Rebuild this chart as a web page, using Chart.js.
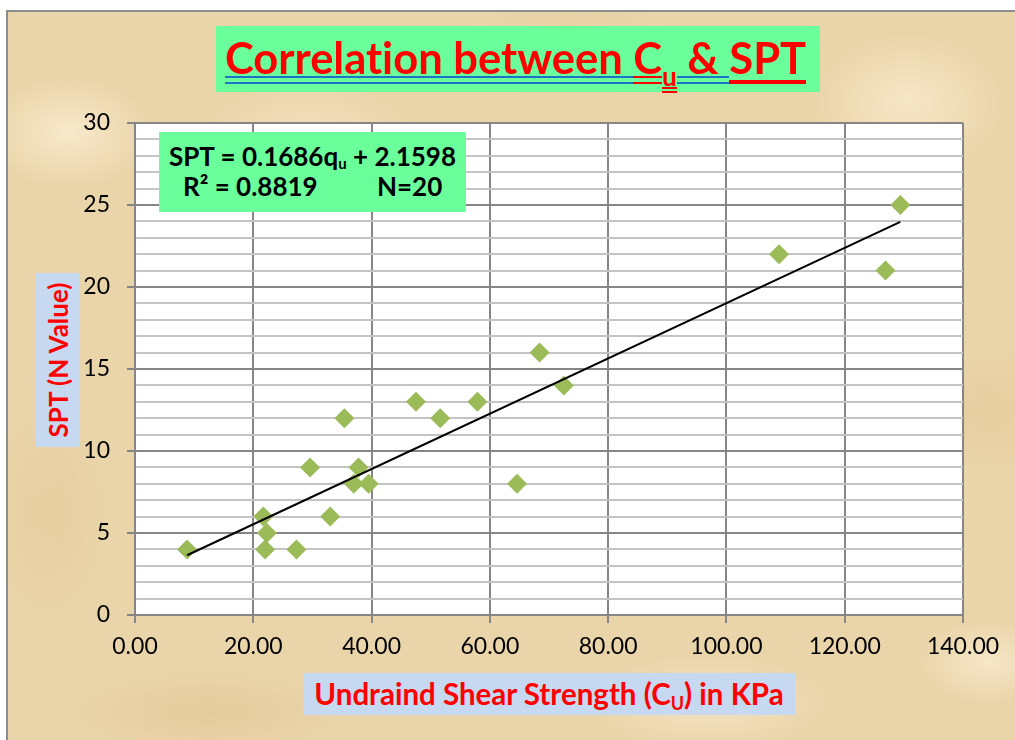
<!DOCTYPE html>
<html>
<head>
<meta charset="utf-8">
<script src="https://cdn.jsdelivr.net/npm/chart.js@4/dist/chart.umd.min.js"></script>
<style>
  html, body { margin:0; padding:0; width:1015px; height:740px; overflow:hidden; background:#fff; }
  #frame {
    position:absolute; left:6px; top:10px; width:1015px; height:740px;
    border-left:2px solid #8c8c8c; border-top:2px solid #8c8c8c;
    background-color:#ead5aa;
    background-image:
      radial-gradient(ellipse 120px 80px at 60px 120px, rgba(250,238,210,0.8), rgba(250,238,210,0) 70%),
      radial-gradient(ellipse 160px 90px at 300px 130px, rgba(245,230,200,0.7), rgba(245,230,200,0) 70%),
      radial-gradient(ellipse 140px 100px at 900px 90px, rgba(248,235,205,0.8), rgba(248,235,205,0) 70%),
      radial-gradient(ellipse 120px 90px at 980px 400px, rgba(225,200,150,0.6), rgba(225,200,150,0) 70%),
      radial-gradient(ellipse 200px 60px at 200px 700px, rgba(222,196,146,0.6), rgba(222,196,146,0) 70%),
      radial-gradient(ellipse 180px 70px at 700px 690px, rgba(248,234,204,0.7), rgba(248,234,204,0) 70%),
      radial-gradient(ellipse 90px 160px at 40px 500px, rgba(224,198,148,0.5), rgba(224,198,148,0) 70%),
      radial-gradient(ellipse 150px 80px at 560px 40px, rgba(226,202,155,0.5), rgba(226,202,155,0) 70%),
      radial-gradient(ellipse 100px 60px at 980px 650px, rgba(250,238,212,0.7), rgba(250,238,212,0) 70%);
  }
  #wrap { position:absolute; left:0; top:0; width:1015px; height:740px; }
  canvas { position:absolute; left:0; top:0; }
  .box { position:absolute; box-sizing:border-box; font-family:Lato, "Open Sans", sans-serif; font-weight:700;
         font-variant-ligatures:none; }
  #title { left:216px; top:26px; width:604px; height:66px; background:#6bff9b; color:#ff0000;
           font-size:43.5px; white-space:nowrap; line-height:1; }
  #title .t { position:absolute; left:9px; top:10px; white-space:pre; }
  #title span { display:inline-block; padding-bottom:12px; white-space:pre;
                background-repeat:no-repeat; }
  #title .bl { background-image:linear-gradient(#1b74c6,#1b74c6),linear-gradient(#1b74c6,#1b74c6);
               background-size:100% 2px,100% 2px; background-position:0 40px,0 46px; }
  #title .rc { background-image:linear-gradient(#ff0000,#ff0000),linear-gradient(#ff0000,#ff0000);
               background-size:100% 2px,100% 2px; background-position:0 40px,0 46px; }
  #title .ru { font-size:26px; position:relative; top:12px;
               background-image:linear-gradient(#ff0000,#ff0000),linear-gradient(#ff0000,#ff0000);
               background-size:100% 2px,100% 2px; background-position:0 24px,0 28px; padding-bottom:8px; }
  #title .rs { background-image:linear-gradient(#ff0000,#ff0000);
               background-size:100% 4px; background-position:0 44px; }
  #eq { left:159px; top:132px; width:307px; height:80px; background:#6bff9b; color:#000; font-size:26px; line-height:1; }
  #eq .l1 { position:absolute; left:0; width:100%; top:11px; text-align:center; white-space:nowrap; }
  #eq .l2a { position:absolute; left:24px; top:41px; white-space:nowrap; }
  #eq .l2b { position:absolute; left:218px; top:41px; white-space:nowrap; }
  #eq sub { font-size:15px; vertical-align:-3px; line-height:0; }
  #ytitle { left:36px; top:273px; width:44px; height:174px; background:#c6d9f0; color:#ff0000; font-size:26px; }
  #ytitle .r { position:absolute; left:50%; top:50%; transform:translate(-50%,-50%) rotate(-90deg); white-space:nowrap; }
  #xtitle { left:303px; top:673px; width:492px; height:42px; background:#c6d9f0; color:#ff0000; font-size:29.5px;
            text-align:center; line-height:42px; white-space:nowrap; }
  #xtitle sub { font-size:18px; vertical-align:-5px; line-height:0; }
</style>
</head>
<body>
<div id="frame"></div>
<div id="wrap"><canvas id="c" width="1015" height="740"></canvas></div>

<div class="box" id="title"><div class="t"><span class="bl">Correlation between </span><span class="rc">C</span><span class="ru">u</span><span class="bl"> &amp; </span><span class="rs">SPT</span></div></div>
<div class="box" id="eq">
  <div class="l1">SPT = 0.1686q<sub>u</sub> + 2.1598</div>
  <div class="l2a">R² = 0.8819</div>
  <div class="l2b">N=20</div>
</div>
<div class="box" id="ytitle"><div class="r">SPT (N Value)</div></div>
<div class="box" id="xtitle">Undraind Shear Strength (C<sub>U</sub>) in KPa</div>

<script>
// ---- data ----
const cuValues  = [8.8, 21.7, 22.0, 22.3, 27.3, 29.6, 33.0, 35.4, 37.0, 37.8, 39.5, 47.5, 51.6, 57.9, 64.6, 68.4, 72.5, 108.9, 126.9, 129.4];
const sptValues = [4,   6,    4,    5,    4,    9,    6,    12,   8,    9,    8,    13,   12,   13,   8,    16,   14,   22,    21,    25];
const trendSlope = 0.1686;
const trendIntercept = 2.1598;
const xTicks = [0, 20, 40, 60, 80, 100, 120, 140];
const yTicks = [0, 5, 10, 15, 20, 25, 30];

const points = cuValues.map((x, i) => ({ x: x, y: sptValues[i] }));
const xMin = Math.min(...cuValues), xMax = Math.max(...cuValues);
const trend = [xMin, xMax].map(x => ({ x: x, y: trendSlope * x + trendIntercept }));

const plotBg = {
  id: 'plotBg',
  beforeDraw(chart) {
    const a = chart.chartArea, ctx = chart.ctx;
    ctx.save(); ctx.fillStyle = '#ffffff';
    ctx.fillRect(a.left, a.top, a.right - a.left, a.bottom - a.top);
    ctx.restore();
  }
};

const isMajorY = v => yTicks.includes(v);

new Chart(document.getElementById('c'), {
  type: 'scatter',
  data: {
    datasets: [
      { data: points, pointStyle: 'rectRot', pointRadius: 10, pointHoverRadius: 10,
        backgroundColor: '#9bbb59', borderColor: '#9bbb59', borderWidth: 0, order: 2 },
      { data: trend, showLine: true, pointRadius: 0, borderColor: '#000000', borderWidth: 2,
        fill: false, order: 1 }
    ]
  },
  options: {
    responsive: false, animation: false, devicePixelRatio: 1,
    layout: { padding: { left: 0, top: 123, right: 52, bottom: 0 } },
    plugins: { legend: { display: false }, tooltip: { enabled: false }, title: { display: false } },
    scales: {
      x: {
        type: 'linear', min: xTicks[0], max: xTicks[xTicks.length - 1],
        afterBuildTicks: s => { s.ticks = xTicks.map(v => ({ value: v })); },
        afterFit: s => { s.height = 125; },
        ticks: { callback: v => Number(v).toFixed(2), color: '#000', font: { family: 'Lato', size: 23 }, padding: 10, maxRotation: 0, autoSkip: false },
        grid: { color: '#868686', lineWidth: 2, tickLength: 8, tickColor: '#868686' },
        border: { color: '#868686', width: 2 }
      },
      y: {
        type: 'linear', min: 0, max: 30,
        ticks: { stepSize: 1, autoSkip: false, callback: v => isMajorY(v) ? String(v) : '',
                 color: '#000', font: { family: 'Lato', size: 23 }, padding: 17 },
        afterFit: s => { s.width = 135; },
        grid: { color: c => isMajorY(c.tick.value) ? '#868686' : '#c4c4c4', lineWidth: 2, tickLength: 8,
                tickColor: c => isMajorY(c.tick.value) ? '#868686' : 'rgba(0,0,0,0)' },
        border: { color: '#868686', width: 2 }
      }
    }
  },
  plugins: [plotBg]
});
</script>
</body>
</html>
